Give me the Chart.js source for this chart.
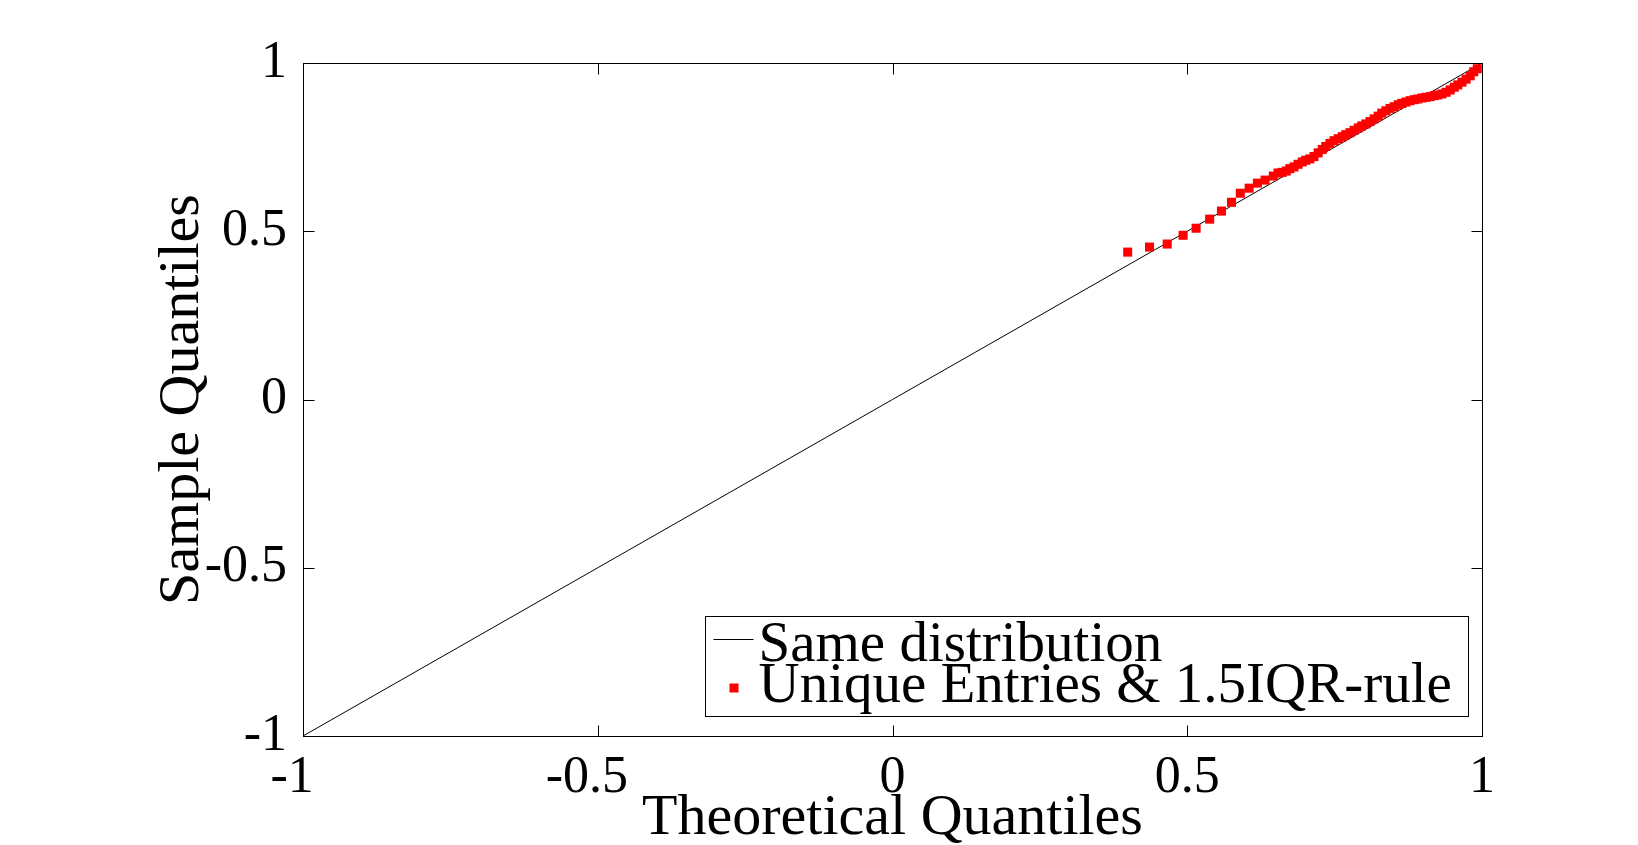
<!DOCTYPE html>
<html><head><meta charset="utf-8">
<script src="https://cdn.jsdelivr.net/npm/chart.js@4/dist/chart.umd.min.js"></script>
<style>html,body{margin:0;padding:0;background:#fff;overflow:hidden}canvas{display:block}</style>
</head><body>
<canvas id="c" width="1638" height="845"></canvas>
<script>
const xTicks = [-1, -0.5, 0, 0.5, 1];
const xTickLabels = ['-1', '-0.5', '0', '0.5', '1'];
const yTicks = [-1, -0.5, 0, 0.5, 1];
const yTickLabels = ['-1', '-0.5', '0', '0.5', '1'];
const xTitle = 'Theoretical Quantiles';
const yTitle = 'Sample Quantiles';
const seriesLabels = ['Same distribution', 'Unique Entries & 1.5IQR-rule'];

const refX = [-1, 1];
const refY = [-1, 1];

const sampleX = [0.399,0.436,0.466,0.493,0.515,0.538,0.558,0.575,0.590,0.605,0.619,0.632,0.646,0.654,
  0.661,0.668,0.674,0.681,0.688,0.695,0.701,0.708,0.715,0.722,0.729,0.735,0.742,0.749,0.756,0.763,
  0.769,0.776,0.783,0.790,0.796,0.803,0.810,0.817,0.824,0.830,0.837,0.844,0.851,0.858,0.864,0.871,
  0.878,0.885,0.891,0.898,0.905,0.912,0.919,0.925,0.932,0.939,0.946,0.953,0.959,0.966,0.973,0.980,
  0.986,0.992];
const sampleY = [0.438,0.453,0.462,0.488,0.509,0.536,0.560,0.586,0.613,0.628,0.643,0.652,0.664,0.673,
  0.675,0.679,0.686,0.691,0.699,0.706,0.711,0.715,0.722,0.733,0.743,0.752,0.761,0.769,0.775,0.781,
  0.787,0.793,0.800,0.807,0.813,0.819,0.826,0.834,0.842,0.851,0.858,0.865,0.870,0.876,0.880,0.884,
  0.888,0.891,0.893,0.896,0.898,0.900,0.903,0.905,0.908,0.913,0.920,0.928,0.935,0.943,0.952,0.962,
  0.974,0.983];

const FONT = '"Liberation Serif", "DejaVu Serif", serif';

const framePlugin = {
  id: 'frame',
  afterDraw(chart) {
    const {ctx, chartArea: a, scales: {x, y}} = chart;
    ctx.save();
    ctx.strokeStyle = '#000';
    ctx.lineWidth = 1;
    const L = Math.round(a.left) + 0.5, R = Math.round(a.right) + 0.5;
    const T = Math.round(a.top) + 0.5, B = Math.round(a.bottom) + 0.5;
    ctx.strokeRect(L, T, R - L, B - T);
    const tl = 11;
    ctx.beginPath();
    xTicks.forEach(v => {
      const px = Math.round(x.getPixelForValue(v)) + 0.5;
      ctx.moveTo(px, B); ctx.lineTo(px, B - tl);
      ctx.moveTo(px, T); ctx.lineTo(px, T + tl);
    });
    yTicks.forEach(v => {
      const py = Math.round(y.getPixelForValue(v)) + 0.5;
      ctx.moveTo(L, py); ctx.lineTo(L + tl, py);
      ctx.moveTo(R, py); ctx.lineTo(R - tl, py);
    });
    ctx.stroke();

    // legend box (bottom-right inside plot)
    const ds = chart.data.datasets;
    const boxW = 763, boxH = 100;
    const bx = Math.round(a.right - 14 - boxW) + 0.5;
    const by = Math.round(a.bottom - 20 - boxH) + 0.5;
    ctx.fillStyle = '#fff';
    ctx.fillRect(bx, by, boxW, boxH);
    ctx.strokeRect(bx, by, boxW, boxH);
    const lineDs = ds[1], ptDs = ds[0];
    ctx.strokeStyle = lineDs.borderColor;
    ctx.lineWidth = lineDs.borderWidth;
    ctx.beginPath();
    ctx.moveTo(bx + 8, by + 23);
    ctx.lineTo(bx + 48, by + 23);
    ctx.stroke();
    ctx.fillStyle = ptDs.backgroundColor;
    ctx.fillRect(bx + 24, by + 67, 9, 9);
    ctx.fillStyle = '#000';
    ctx.font = '57px ' + FONT;
    ctx.textBaseline = 'alphabetic';
    ctx.textAlign = 'left';
    ctx.fillText(lineDs.label, bx + 53, by + 44);
    ctx.fillText(ptDs.label, bx + 53, by + 85.5);
    ctx.restore();
  }
};

// negative labels: the minus sign hangs left of the centred number
const xLabel = (v) => {
  const s = xTickLabels[xTicks.indexOf(v)];
  return s.startsWith('-') ? s + '\u2005\u2006' : s;
};

new Chart(document.getElementById('c'), {
  type: 'scatter',
  data: {
    datasets: [
      {
        label: seriesLabels[1],
        data: sampleX.map((v, i) => ({x: v, y: sampleY[i]})),
        pointStyle: 'rect',
        pointRadius: 6.4,
        backgroundColor: '#ff0000',
        borderWidth: 0,
        showLine: false
      },
      {
        label: seriesLabels[0],
        data: refX.map((v, i) => ({x: v, y: refY[i]})),
        showLine: true,
        pointRadius: 0,
        borderColor: '#000000',
        borderWidth: 1,
        backgroundColor: '#000000'
      }
    ]
  },
  options: {
    responsive: false,
    animation: false,
    devicePixelRatio: 1,
    events: [],
    layout: {padding: {left: 0, right: 156, top: 63, bottom: 0}},
    plugins: {legend: {display: false}, tooltip: {enabled: false}},
    scales: {
      x: {
        type: 'linear', position: 'bottom', min: -1, max: 1,
        afterBuildTicks(s) { s.ticks = xTicks.map(v => ({value: v})); },
        afterFit(s) { s.height = 109; },
        grid: {display: false}, border: {display: false},
        ticks: {
          color: '#000', padding: 3, maxRotation: 0, autoSkip: false,
          font: {family: FONT, size: 52},
          callback: xLabel
        },
        title: {display: true, text: xTitle, color: '#000', font: {family: FONT, size: 58, lineHeight: 1}, padding: {top: 0, bottom: -3}}
      },
      y: {
        type: 'linear', position: 'left', min: -1, max: 1,
        afterBuildTicks(s) { s.ticks = yTicks.map(v => ({value: v})); },
        afterFit(s) { s.width = 303; },
        grid: {display: false}, border: {display: false},
        ticks: {
          color: '#000', padding: 8, autoSkip: false,
          font: {family: FONT, size: 52},
          callback: (v) => yTickLabels[yTicks.indexOf(v)]
        },
        title: {display: true, text: yTitle, color: '#000', font: {family: FONT, size: 58, lineHeight: 1}, padding: {top: 154, bottom: 0}}
      }
    }
  },
  plugins: [framePlugin]
});
</script>
</body></html>
